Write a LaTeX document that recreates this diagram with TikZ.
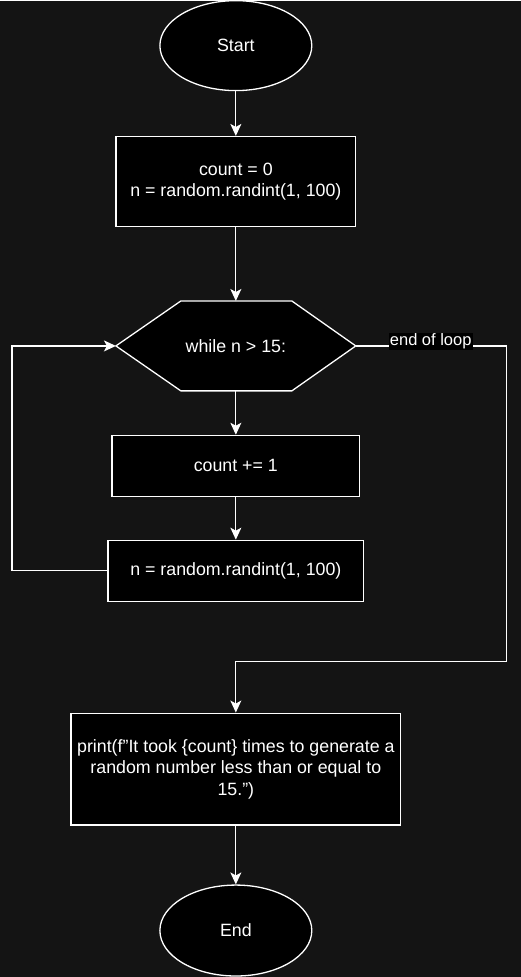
\documentclass[tikz,border=0pt]{standalone}
\usepackage{fontspec}
\setmainfont[Ligatures=NoCommon]{Liberation Sans}
\usetikzlibrary{arrows.meta,shapes.geometric}
\definecolor{bgdark}{RGB}{20,20,20}

\begin{document}
\begin{tikzpicture}[x=1pt,y=-1pt,
		every node/.style={text=white,font=\fontsize{17.8}{21.5}\selectfont},
		term/.style={ellipse,draw=white,fill=black,line width=1.3pt,minimum width=152pt,minimum height=90pt,inner sep=0pt},
		proc/.style={rectangle,draw=white,fill=black,line width=1.3pt,align=center,inner sep=0pt},
		decision/.style={rectangle,minimum width=240pt,minimum height=90pt,inner sep=0pt,outer sep=0pt},
		tag/.style={fill=black,inner sep=1pt,font=\fontsize{16.5}{18}\selectfont},
		flow/.style={draw=white,line width=1.3pt,-{Stealth[length=12pt,width=11pt,inset=3pt]}}]
		%%%%% START %%%%%
		\fill[bgdark] (0,0) rectangle (521,977);
		
		\node[term] (start) at (236,45) {Start};
		\node[proc,minimum width=240pt,minimum height=90pt] (init) at (236,181) {count = 0\\n = random.randint(1, 100)};
		
		\draw[white,line width=1.3pt,fill=black] (116,345.5) -- (181,300.5) -- (292,300.5) -- (356,345.5) -- (292,390.5) -- (181,390.5) -- cycle;
		\node[decision] (loop) at (236,345.5) {while n > 15:};
		
		\node[proc,minimum width=248pt,minimum height=61pt] (inc) at (236,465.5) {count += 1};
		\node[proc,minimum width=256pt,minimum height=61pt] (upd) at (236,570.5) {n = random.randint(1, 100)};
		\node[proc,minimum width=330pt,minimum height=112pt] (out) at (236,769) {print(f\symbol{34}It took \{count\} times to generate a\\random number less than or equal to\\15.\symbol{34})};
		\node[term,minimum height=91pt] (end) at (236,930.5) {End};
		
		\coordinate (backx) at (12,570.5);
		\coordinate (exitx) at (507,661);
		
		\draw[flow] (start) -- (init);
		\draw[flow] (init) -- (loop);
		\draw[flow] (loop) -- (inc);
		\draw[flow] (inc) -- (upd);
		\draw[flow] (upd.west) -- (backx) |- (loop.west);
		\draw[flow] (loop.east) -| (exitx) -| (out.north);
		\draw[flow] (out) -- (end);
		
		\node[tag] (exitlbl) at (431,341) {end of loop};
		%%%%% END %%%%%
\end{tikzpicture}
\end{document}
